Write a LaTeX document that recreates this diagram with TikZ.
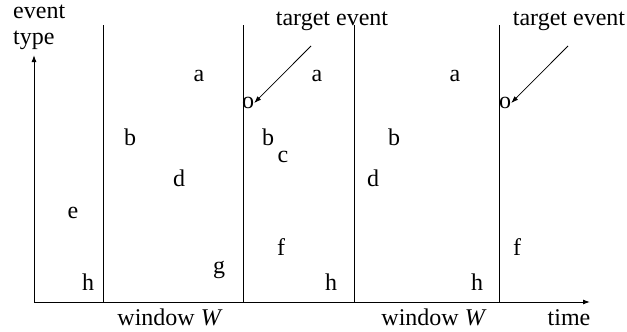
\documentclass[tikz,border=0pt]{standalone}
\usepackage{fontspec}
\setmainfont{Liberation Serif}
\usetikzlibrary{arrows.meta}

\begin{document}
\begin{tikzpicture}[
  x=1pt, y=-1pt,
  every node/.style = {font=\fontsize{24}{28}\selectfont},
  event/.style = {inner sep=0pt},
  txt/.style   = {inner sep=0pt, anchor=base},
  axis/.style  = {line width=1pt, -{Latex[length=7pt,width=5pt]}},
  bound/.style = {line width=1pt},
  arrow/.style = {line width=0.8pt, -{Latex[length=7pt,width=5pt]}}
]
\useasboundingbox (0,0) rectangle (627,332);

%--------------------------------------------------
% Axes
%--------------------------------------------------
\coordinate (origin) at (34,302);
\coordinate (ytip) at (34,55);
\coordinate (xtip) at (590,302);
\draw[axis] (origin) -- (ytip);
\draw[axis] (origin) -- (xtip);

\node[txt, anchor=base west] (evt) at (13,18) {event};
\node[txt, anchor=base west] (typ) at (13,45) {type};
\node[txt] (time) at (569,325) {time};

%--------------------------------------------------
% Window boundaries
%--------------------------------------------------
\foreach \x in {103,243,354,499}
  \draw[bound] (\x,25) -- (\x,302);

\node[txt] (win1) at (170,325) {window \textit{W}};
\node[txt] (win2) at (434,325) {window \textit{W}};

%--------------------------------------------------
% Events
%--------------------------------------------------
\foreach \name/\x/\y/\t in {
    a1/199/76/a, a2/317/76/a, a3/455/76/a,
    b1/130/137/b, b2/268/137/b, b3/394/137/b,
    c1/283/157/c,
    d1/179/178/d, d2/373/178/d,
    e1/73/213/e,
    f1/281/247/f, f2/517/247/f,
    g1/219/270/g,
    h1/88/282/h, h2/331/282/h, h3/477/282/h}
  \node[event] (\name) at (\x,\y) {\t};

%--------------------------------------------------
% Target events
%--------------------------------------------------
\node[event] (o1) at (248,103) {o};
\node[event] (o2) at (505,103) {o};

\node[txt] (target1) at (332,25) {target event};
\node[txt] (target2) at (569,25) {target event};

\coordinate (tail1) at (311,46);
\coordinate (tail2) at (568,46);

\draw[arrow] (tail1) -- (o1.east);
\draw[arrow] (tail2) -- (o2.east);

\end{tikzpicture}
\end{document}
